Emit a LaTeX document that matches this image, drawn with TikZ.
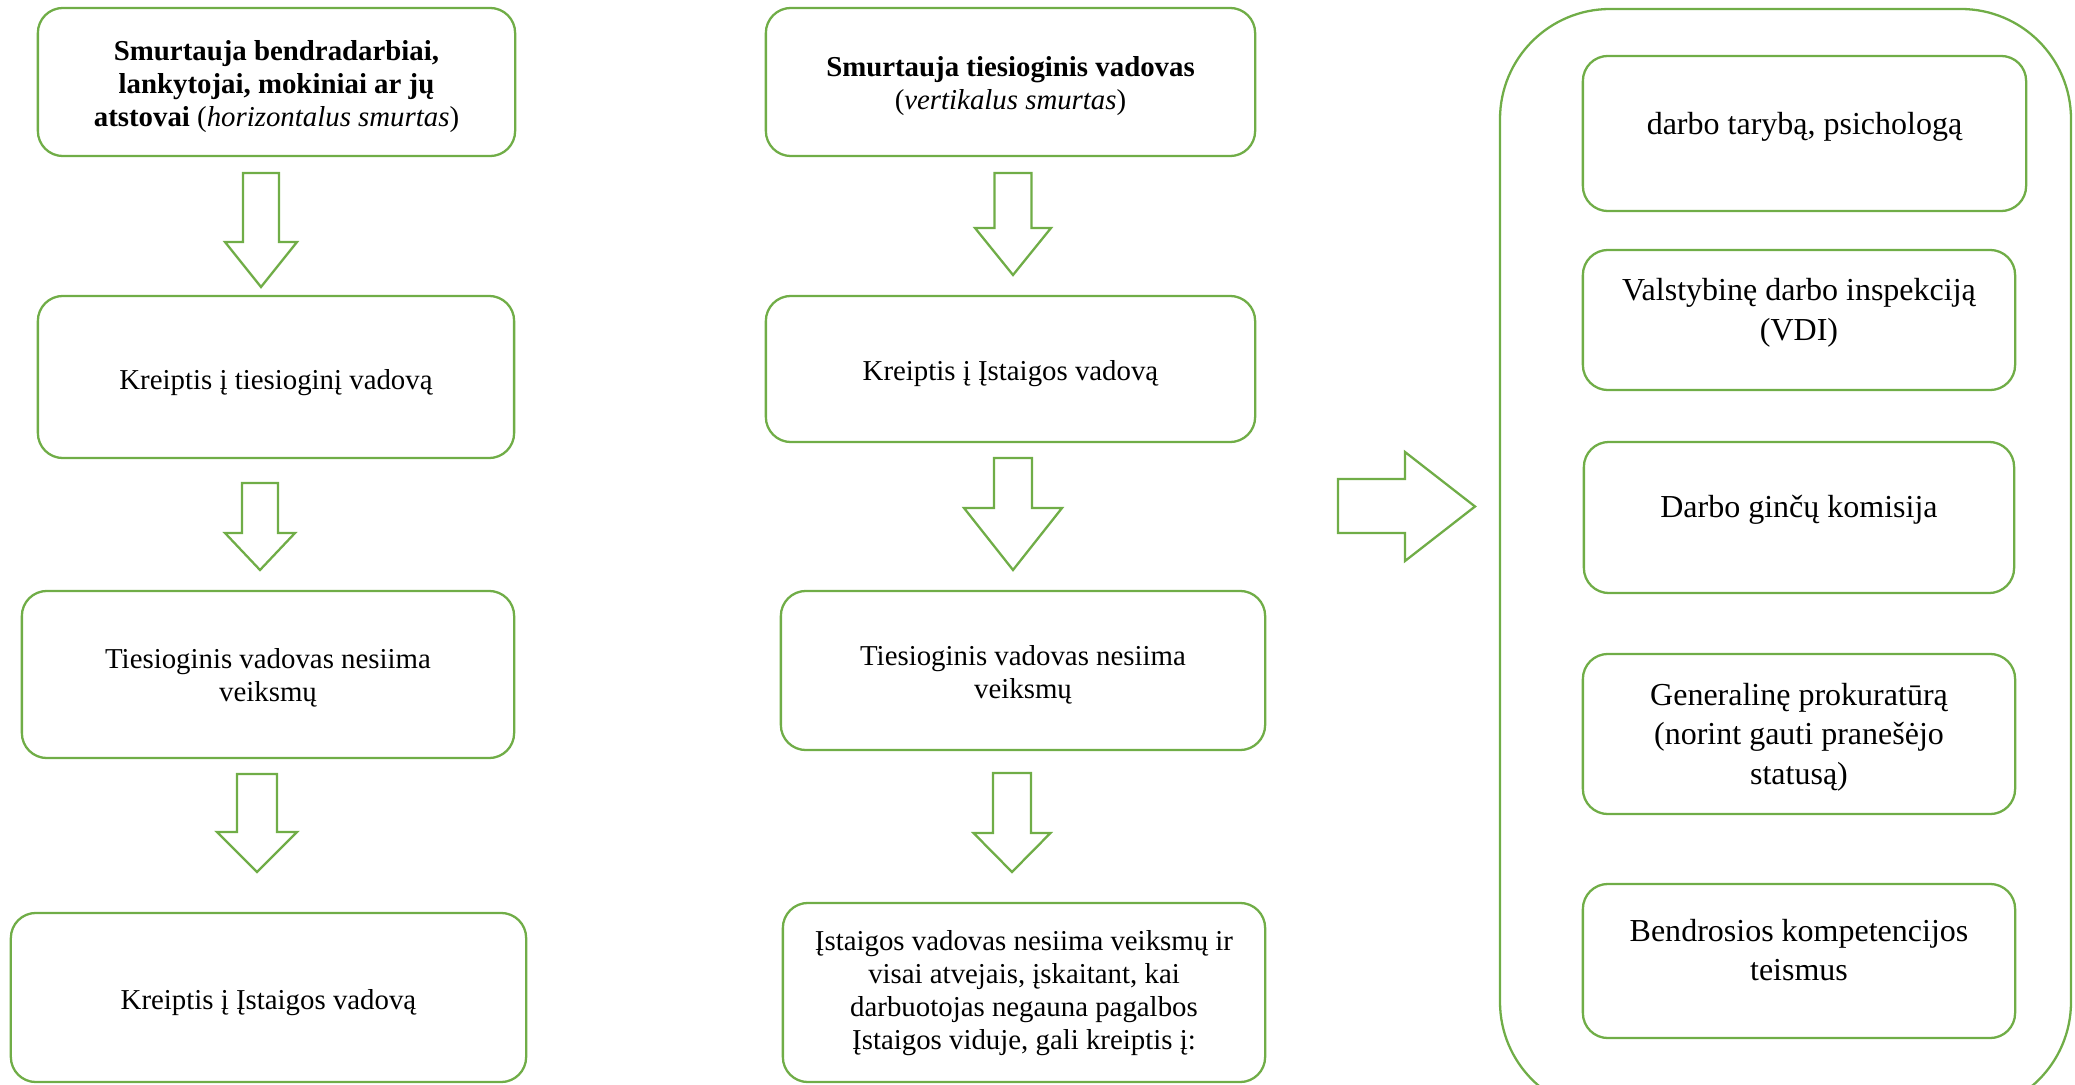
\documentclass[tikz,border=0pt]{standalone}
\usepackage{fontspec}
\setmainfont{Liberation Serif}
\usetikzlibrary{positioning}

\definecolor{boxgreen}{HTML}{70AD47}

\tikzset{
  box/.style={draw=boxgreen, line width=0.65pt, rounded corners=0.25cm, inner sep=0pt},
  txt/.style={align=center, inner sep=0pt, font=\fontsize{8.2}{9.4}\selectfont},
  rtxt/.style={txt, font=\fontsize{9.1}{11.2}\selectfont},
  blockarrow/.style={draw=boxgreen, line width=0.65pt, fill=white},
  % hollow arrow pointing down: shaft half width, shaft length, head half width, head length
  pics/downarrow/.style n args={4}{code={
    \draw[blockarrow] (-#1,0) -- (#1,0) -- (#1,#2) -- (#3,#2) -- (0,#2+#4)
      -- (-#3,#2) -- (-#1,#2) -- cycle;}}
}

\begin{document}
\begin{tikzpicture}[x=0.01cm, y=-0.01cm]
    \useasboundingbox (0,0) rectangle (2075,1085);

    % horizontalus smurtas
    \node[box, minimum width=4.77cm, minimum height=1.48cm] (l1) at (276.5,82) {};
    \node[box, minimum width=4.76cm, minimum height=1.62cm] (l2) at (276,377) {};
    \node[box, minimum width=4.92cm, minimum height=1.67cm] (l3) at (268,674.5) {};
    \node[box, minimum width=5.15cm, minimum height=1.69cm] (l4) at (268.5,997.5) {};
    \node[txt] (l1t) at ([yshift=-0.05cm]l1.center)
        {\textbf{Smurtauja bendradarbiai,}\\ \textbf{lankytojai, mokiniai ar jų}\\
         \textbf{atstovai} (\textit{horizontalus smurtas})};
    \node[txt] (l2t) at ([yshift=-0.06cm]l2.center) {Kreiptis į tiesioginį vadovą};
    \node[txt] (l3t) at ([yshift=-0.03cm]l3.center) {Tiesioginis vadovas nesiima\\ veiksmų};
    \node[txt] (l4t) at ([yshift=-0.05cm]l4.center) {Kreiptis į Įstaigos vadovą};
    \pic at (261,173) {downarrow={18}{69}{36}{45}};
    \pic at (260,483) {downarrow={18}{50}{35}{37}};
    \pic at (257,774) {downarrow={20}{58}{40}{40}};

    % vertikalus smurtas
    \node[box, minimum width=4.89cm, minimum height=1.48cm] (m1) at (1010.5,82) {};
    \node[box, minimum width=4.89cm, minimum height=1.46cm] (m2) at (1010.5,369) {};
    \node[box, minimum width=4.84cm, minimum height=1.59cm] (m3) at (1023,670.5) {};
    \node[box, minimum width=4.82cm, minimum height=1.79cm] (m4) at (1024,992.5) {};
    \node[txt] (m1t) at ([yshift=-0.04cm]m1.center)
        {\textbf{Smurtauja tiesioginis vadovas}\\ (\textit{vertikalus smurtas})};
    \node[txt] (m2t) at ([yshift=-0.05cm]m2.center) {Kreiptis į Įstaigos vadovą};
    \node[txt] (m3t) at ([yshift=-0.04cm]m3.center) {Tiesioginis vadovas nesiima\\ veiksmų};
    \node[txt] (m4t) at ([yshift=-0.01cm]m4.center)
        {Įstaigos vadovas nesiima veiksmų ir\\ visai atvejais, įskaitant, kai\\
         darbuotojas negauna pagalbos\\ Įstaigos viduje, gali kreiptis į:};
    \pic at (1013,173) {downarrow={18.5}{55}{38}{47}};
    \pic at (1013,458) {downarrow={19}{50}{49}{62}};
    \pic at (1012,773) {downarrow={19}{60}{38.5}{39}};

    % kur kreiptis
    \draw[blockarrow] (1338,479) -- (1405,479) -- (1405,452) -- (1475,506.5)
        -- (1405,561) -- (1405,533) -- (1338,533) -- cycle;
    \draw[draw=boxgreen, line width=0.65pt, rounded corners=1.1cm] (1500,9) rectangle (2071,1112);
    \node[box, minimum width=4.43cm, minimum height=1.55cm] (r1) at (1804.5,133.5) {};
    \node[box, minimum width=4.32cm, minimum height=1.40cm] (r2) at (1799,320) {};
    \node[box, minimum width=4.30cm, minimum height=1.51cm] (r3) at (1799,517.5) {};
    \node[box, minimum width=4.32cm, minimum height=1.60cm] (r4) at (1799,734) {};
    \node[box, minimum width=4.32cm, minimum height=1.54cm] (r5) at (1799,961) {};
    \node[rtxt] (r1t) at ([yshift=0.07cm]r1.center) {darbo tarybą, psichologą};
    \node[rtxt] (r2t) at ([yshift=0.07cm]r2.center) {Valstybinę darbo inspekciją\\ (VDI)};
    \node[rtxt] (r3t) at ([yshift=0.08cm]r3.center) {Darbo ginčų komisija};
    \node[rtxt] (r4t) at ([yshift=-0.03cm]r4.center)
        {Generalinę prokuratūrą\\ (norint gauti pranešėjo\\ statusą)};
    \node[rtxt] (r5t) at ([yshift=0.11cm]r5.center) {Bendrosios kompetencijos\\ teismus};
\end{tikzpicture}
\end{document}
